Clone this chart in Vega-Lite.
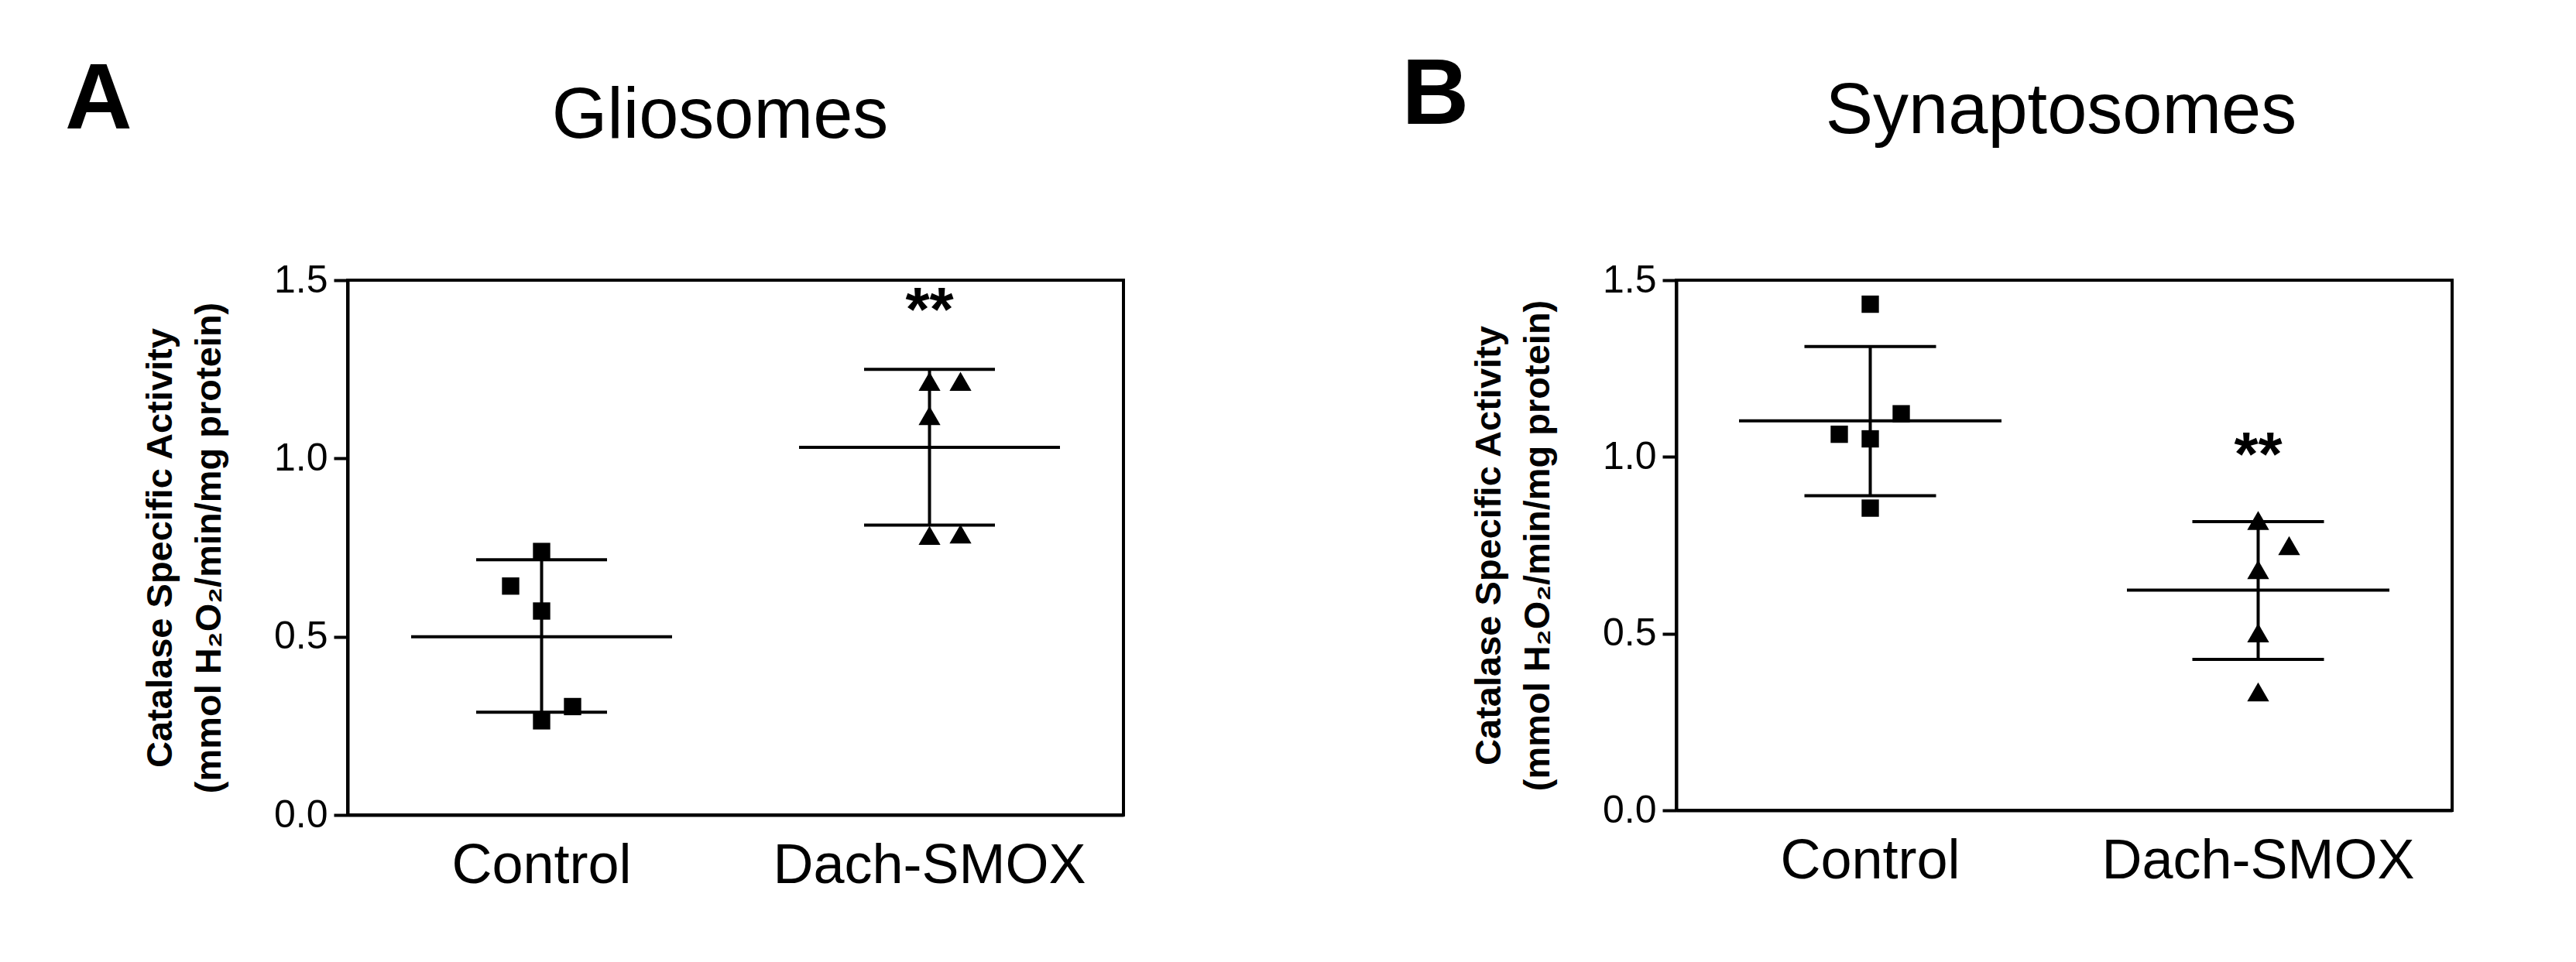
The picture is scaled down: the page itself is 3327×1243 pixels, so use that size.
{
  "$schema": "https://vega.github.io/schema/vega-lite/v6.json",
  "background": "white",
  "padding": {"left": 83, "top": 64, "right": 5, "bottom": 5},
  "config": {
    "font": "Liberation Sans, Arial, Helvetica, sans-serif",
    "view": {"stroke": "black", "strokeWidth": 4},
    "axis": {"domainColor": "black", "domainWidth": 4, "tickColor": "black", "tickWidth": 4, "labelColor": "black", "titleColor": "black", "grid": false, "labelLimit": 0},
    "title": {"color": "black"}
  },
  "datasets": {
    "pts": [
      {"panel": "A", "group": "Control", "value": 0.739, "jit": 0},
      {"panel": "A", "group": "Control", "value": 0.642, "jit": -1},
      {"panel": "A", "group": "Control", "value": 0.572, "jit": 0},
      {"panel": "A", "group": "Control", "value": 0.304, "jit": 1},
      {"panel": "A", "group": "Control", "value": 0.264, "jit": 0},
      {"panel": "A", "group": "Dach-SMOX", "value": 1.216, "jit": 0},
      {"panel": "A", "group": "Dach-SMOX", "value": 1.216, "jit": 1},
      {"panel": "A", "group": "Dach-SMOX", "value": 1.12, "jit": 0},
      {"panel": "A", "group": "Dach-SMOX", "value": 0.784, "jit": 0},
      {"panel": "A", "group": "Dach-SMOX", "value": 0.788, "jit": 1},
      {"panel": "B", "group": "Control", "value": 1.432, "jit": 0},
      {"panel": "B", "group": "Control", "value": 1.122, "jit": 1},
      {"panel": "B", "group": "Control", "value": 1.064, "jit": -1},
      {"panel": "B", "group": "Control", "value": 1.051, "jit": 0},
      {"panel": "B", "group": "Control", "value": 0.855, "jit": 0},
      {"panel": "B", "group": "Dach-SMOX", "value": 0.82, "jit": 0},
      {"panel": "B", "group": "Dach-SMOX", "value": 0.749, "jit": 1},
      {"panel": "B", "group": "Dach-SMOX", "value": 0.681, "jit": 0},
      {"panel": "B", "group": "Dach-SMOX", "value": 0.502, "jit": 0},
      {"panel": "B", "group": "Dach-SMOX", "value": 0.335, "jit": 0}
    ],
    "stats": [
      {"panel": "A", "group": "Control", "mean": 0.5, "lo": 0.288, "hi": 0.716},
      {"panel": "A", "group": "Dach-SMOX", "mean": 1.031, "lo": 0.813, "hi": 1.25},
      {"panel": "B", "group": "Control", "mean": 1.102, "lo": 0.89, "hi": 1.312},
      {"panel": "B", "group": "Dach-SMOX", "mean": 0.623, "lo": 0.427, "hi": 0.817}
    ],
    "sig": [
      {"panel": "A", "group": "Dach-SMOX", "label": "**", "value": 1.41},
      {"panel": "B", "group": "Dach-SMOX", "label": "**", "value": 1.0}
    ]
  },
  "resolve": {"scale": {"x": "independent", "y": "independent", "xOffset": "independent"}},
  "spacing": 357,
  "hconcat": [
    {
      "title": {"text": "A", "anchor": "start", "frame": "bounds", "fontSize": 120, "fontWeight": "bold", "dx": -97.5, "dy": 93},
      "hconcat": [
        {
          "width": 1002,
          "height": 691,
          "title": {"text": "Gliosomes", "fontSize": 92, "fontWeight": "normal", "anchor": "middle", "frame": "group", "offset": 140, "dx": -20},
          "encoding": {
            "x": {"field": "group", "type": "nominal", "scale": {"domain": ["Control", "Dach-SMOX"], "paddingInner": 0, "paddingOuter": 0},
                  "axis": {"title": null, "labelAngle": 0, "labelFontSize": 72, "ticks": false, "tickSize": 0, "labelPadding": 30}}
          },
          "layer": [
            {
              "data": {"name": "stats"},
              "transform": [{"filter": "datum.panel === 'A'"}],
              "mark": {"type": "rule", "strokeWidth": 4, "color": "black"},
              "encoding": {
                "y": {"field": "lo", "type": "quantitative", "scale": {"domain": [0, 1.5], "nice": false},
                      "axis": {"title": ["Catalase Specific Activity", "(mmol H₂O₂/min/mg protein)"], "values": [0, 0.5, 1, 1.5], "format": ".1f", "tickSize": 18, "labelPadding": 8, "labelFontSize": 50, "titleFontSize": 47, "titleFontWeight": "bold", "titleLineHeight": 63, "titlePadding": 59}},
                "y2": {"field": "hi"}
              }
            },
            {
              "data": {"name": "stats"},
              "transform": [{"filter": "datum.panel === 'A'"}],
              "mark": {"type": "tick", "size": 337, "thickness": 4, "color": "black", "opacity": 1},
              "encoding": {"y": {"field": "mean", "type": "quantitative"}}
            },
            {
              "data": {"name": "stats"},
              "transform": [{"filter": "datum.panel === 'A'"}],
              "mark": {"type": "tick", "size": 169, "thickness": 4, "color": "black", "opacity": 1},
              "encoding": {"y": {"field": "lo", "type": "quantitative"}}
            },
            {
              "data": {"name": "stats"},
              "transform": [{"filter": "datum.panel === 'A'"}],
              "mark": {"type": "tick", "size": 169, "thickness": 4, "color": "black", "opacity": 1},
              "encoding": {"y": {"field": "hi", "type": "quantitative"}}
            },
            {
              "data": {"name": "pts"},
              "transform": [{"filter": "datum.panel === 'A'"}],
              "mark": {"type": "point", "filled": true, "color": "black", "opacity": 1},
              "encoding": {
                "y": {"field": "value", "type": "quantitative"},
                "xOffset": {"field": "jit", "type": "quantitative", "scale": {"domain": [-6.2625, 6.2625], "nice": false, "zero": false}},
                "shape": {"field": "group", "type": "nominal", "scale": {"domain": ["Control", "Dach-SMOX"], "range": ["square", "triangle-up"]}, "legend": null},
                "size": {"field": "group", "type": "ordinal", "scale": {"domain": ["Control", "Dach-SMOX"], "range": [500, 800]}, "legend": null}
              }
            },
            {
              "data": {"name": "sig"},
              "transform": [{"filter": "datum.panel === 'A'"}],
              "mark": {"type": "text", "fontSize": 80, "fontWeight": "bold", "color": "black", "baseline": "middle", "align": "center"},
              "encoding": {
                "y": {"field": "value", "type": "quantitative"},
                "text": {"field": "label"}
              }
            }
          ]
        }
      ]
    },
    {
      "title": {"text": "B", "anchor": "start", "frame": "bounds", "fontSize": 120, "fontWeight": "bold", "dx": -87, "dy": 93},
      "hconcat": [
        {
          "width": 1002,
          "height": 685,
          "title": {"text": "Synaptosomes", "fontSize": 92, "fontWeight": "normal", "anchor": "middle", "frame": "group", "offset": 146, "dx": -4},
          "encoding": {
            "x": {"field": "group", "type": "nominal", "scale": {"domain": ["Control", "Dach-SMOX"], "paddingInner": 0, "paddingOuter": 0},
                  "axis": {"title": null, "labelAngle": 0, "labelFontSize": 72, "ticks": false, "tickSize": 0, "labelPadding": 30}}
          },
          "layer": [
            {
              "data": {"name": "stats"},
              "transform": [{"filter": "datum.panel === 'B'"}],
              "mark": {"type": "rule", "strokeWidth": 4, "color": "black"},
              "encoding": {
                "y": {"field": "lo", "type": "quantitative", "scale": {"domain": [0, 1.5], "nice": false},
                      "axis": {"title": ["Catalase Specific Activity", "(mmol H₂O₂/min/mg protein)"], "values": [0, 0.5, 1, 1.5], "format": ".1f", "tickSize": 18, "labelPadding": 8, "labelFontSize": 50, "titleFontSize": 47, "titleFontWeight": "bold", "titleLineHeight": 63, "titlePadding": 59}},
                "y2": {"field": "hi"}
              }
            },
            {
              "data": {"name": "stats"},
              "transform": [{"filter": "datum.panel === 'B'"}],
              "mark": {"type": "tick", "size": 339, "thickness": 4, "color": "black", "opacity": 1},
              "encoding": {"y": {"field": "mean", "type": "quantitative"}}
            },
            {
              "data": {"name": "stats"},
              "transform": [{"filter": "datum.panel === 'B'"}],
              "mark": {"type": "tick", "size": 170, "thickness": 4, "color": "black", "opacity": 1},
              "encoding": {"y": {"field": "lo", "type": "quantitative"}}
            },
            {
              "data": {"name": "stats"},
              "transform": [{"filter": "datum.panel === 'B'"}],
              "mark": {"type": "tick", "size": 170, "thickness": 4, "color": "black", "opacity": 1},
              "encoding": {"y": {"field": "hi", "type": "quantitative"}}
            },
            {
              "data": {"name": "pts"},
              "transform": [{"filter": "datum.panel === 'B'"}],
              "mark": {"type": "point", "filled": true, "color": "black", "opacity": 1},
              "encoding": {
                "y": {"field": "value", "type": "quantitative"},
                "xOffset": {"field": "jit", "type": "quantitative", "scale": {"domain": [-6.2625, 6.2625], "nice": false, "zero": false}},
                "shape": {"field": "group", "type": "nominal", "scale": {"domain": ["Control", "Dach-SMOX"], "range": ["square", "triangle-up"]}, "legend": null},
                "size": {"field": "group", "type": "ordinal", "scale": {"domain": ["Control", "Dach-SMOX"], "range": [500, 800]}, "legend": null}
              }
            },
            {
              "data": {"name": "sig"},
              "transform": [{"filter": "datum.panel === 'B'"}],
              "mark": {"type": "text", "fontSize": 80, "fontWeight": "bold", "color": "black", "baseline": "middle", "align": "center"},
              "encoding": {
                "y": {"field": "value", "type": "quantitative"},
                "text": {"field": "label"}
              }
            }
          ]
        }
      ]
    }
  ]
}
